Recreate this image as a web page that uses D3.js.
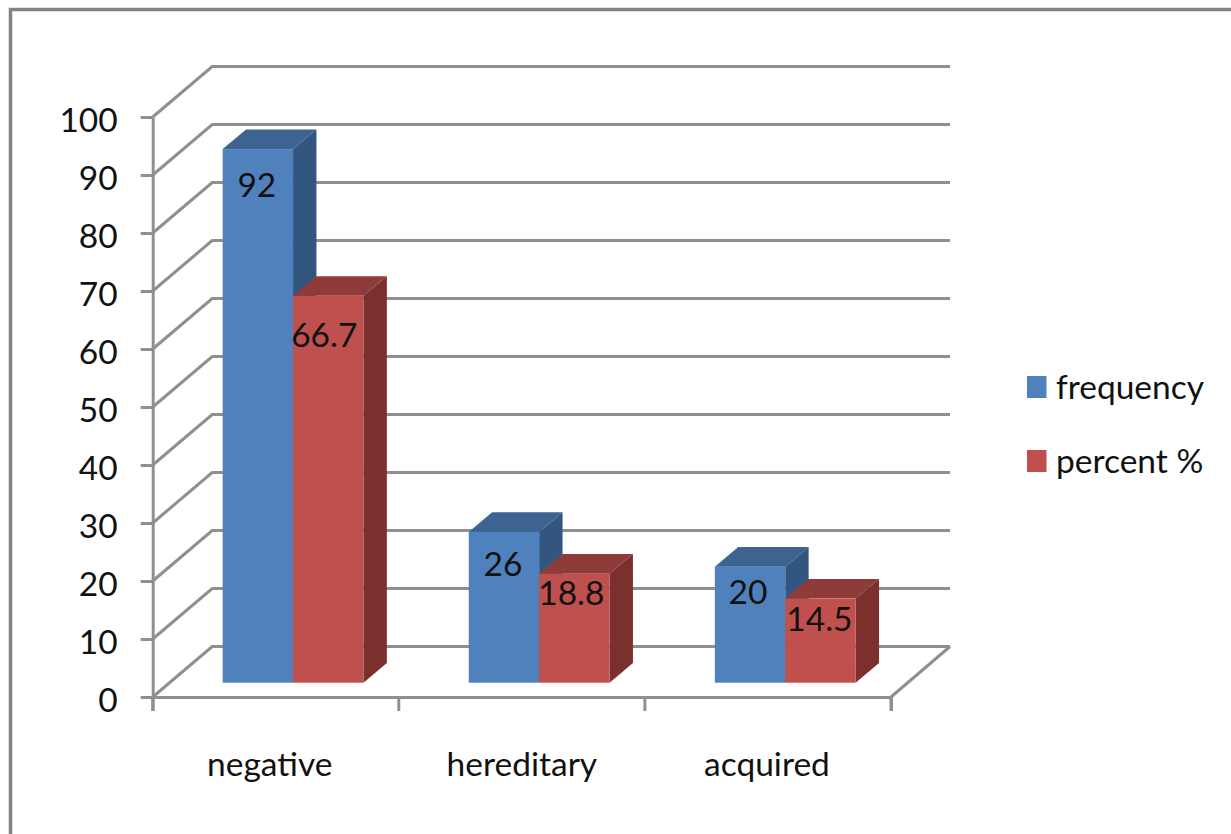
<!DOCTYPE html>
<html>
<head>
<meta charset="utf-8">
<script src="https://cdn.jsdelivr.net/npm/d3@7"></script>
<style>
  html, body { margin: 0; background: #fff; }
  svg { display: block; }
  text { font-family: Lato, sans-serif; fill: #111; }
</style>
</head>
<body>
<div id="chart"></div>
<script>
var categories = ["negative", "hereditary", "acquired"];
var seriesNames = ["frequency", "percent %"];
var frequency = [92, 26, 20];
var percent = [66.7, 18.8, 14.5];
var yTicks = [0, 10, 20, 30, 40, 50, 60, 70, 80, 90, 100];

var width = 1231,
  height = 834,
  grid = "#8f8f8f",
  fontSize = 33.5,
  faces = [
    { front: "#4f81bd", top: "#3d6491", side: "#335680" },
    { front: "#c0504d", top: "#8f3b39", side: "#7b302e" }
  ];

// depth of the walls and of the bars
var wallDx = 59.5, wallDy = -50.5,
  planeDx = 17.3, planeDy = -14.3,
  depthDx = 23.4, depthDy = -19.6;

var x = d3.scaleBand().domain(categories).range([152.7, 891]);
var y = d3.scaleLinear().domain([0, 100]).range([697, 117]);

// two bars side by side, centred in each category
var barWidth = 70.4;
var xSeries = d3.scaleBand().domain(seriesNames)
  .range([x.bandwidth() / 2 - barWidth, x.bandwidth() / 2 + barWidth]);

var svg = d3.select("#chart").append("svg")
  .attr("width", width)
  .attr("height", height);

// outer frame
svg.append("path")
  .attr("d", "M10.5," + height + "V9.5H" + width)
  .attr("fill", "none")
  .attr("stroke", "#828282")
  .attr("stroke-width", 3.5);

// back wall lines and the diagonals running into them
var wall = svg.append("g")
  .attr("fill", "none")
  .attr("stroke", grid)
  .attr("stroke-width", 3);

wall.selectAll("path.gridline").data(yTicks).enter()
  .append("path")
  .attr("class", "gridline")
  .attr("d", function(d) {
    var x0 = x.range()[0], yv = y(d);
    return "M" + x0 + "," + yv + "L" + (x0 + wallDx) + "," + (yv + wallDy) + "H950";
  });

// right edge of the floor
wall.append("path")
  .attr("d", "M" + x.range()[1] + "," + y(0) + "L950," + (y(0) + wallDy));

// bars
var rows = [];
categories.forEach(function(c, i) {
  rows.push({ cat: c, name: seriesNames[0], value: frequency[i], face: faces[0] });
  rows.push({ cat: c, name: seriesNames[1], value: percent[i], face: faces[1] });
});

var poly = d3.line();

var bars = svg.selectAll("g.bar").data(rows).enter()
  .append("g")
  .attr("class", "bar");

var box = function(d) {
  var l = x(d.cat) + xSeries(d.name) + planeDx,
    r = l + xSeries.bandwidth(),
    t = y(d.value) + planeDy,
    b = y(0) + planeDy;
  return { l: l, r: r, t: t, b: b };
};

bars.append("path")
  .attr("fill", function(d) { return d.face.top; })
  .attr("d", function(d) {
    var k = box(d);
    return poly([[k.l, k.t], [k.r, k.t], [k.r + depthDx, k.t + depthDy], [k.l + depthDx, k.t + depthDy]]) + "Z";
  });

bars.append("path")
  .attr("fill", function(d) { return d.face.side; })
  .attr("d", function(d) {
    var k = box(d);
    return poly([[k.r, k.t], [k.r + depthDx, k.t + depthDy], [k.r + depthDx, k.b + depthDy], [k.r, k.b]]) + "Z";
  });

bars.append("rect")
  .attr("fill", function(d) { return d.face.front; })
  .attr("x", function(d) { return box(d).l; })
  .attr("y", function(d) { return box(d).t; })
  .attr("width", xSeries.bandwidth())
  .attr("height", function(d) { return box(d).b - box(d).t; });

// value labels sit a little below the top of the front face
var labelNudge = [[-1, 48], [-4, 51], [-1, 44], [-3, 31], [-2, 37], [-1, 32]];

bars.append("text")
  .attr("text-anchor", "middle")
  .attr("font-size", fontSize)
  .attr("x", function(d, i) { var k = box(d); return (k.l + k.r) / 2 + labelNudge[i][0]; })
  .attr("y", function(d, i) { return box(d).t + labelNudge[i][1]; })
  .text(function(d) { return d.value; });

// axes
var yAxis = svg.append("g")
  .attr("transform", "translate(" + x.range()[0] + ",0)")
  .call(d3.axisLeft(y).tickValues(yTicks).tickSize(12).tickSizeOuter(0).tickPadding(23));

var xAxis = svg.append("g")
  .attr("transform", "translate(0," + y(0) + ")")
  .call(d3.axisBottom(x).tickSizeOuter(14).tickValues([]));

xAxis.selectAll("line.edge").data(x.domain().concat("end")).enter()
  .append("line")
  .attr("class", "edge")
  .attr("x1", function(d) { return d === "end" ? x.range()[1] : x(d); })
  .attr("x2", function(d) { return d === "end" ? x.range()[1] : x(d); })
  .attr("y2", 14);

svg.selectAll(".domain, .tick line, line.edge")
  .attr("stroke", grid)
  .attr("stroke-width", 3);

yAxis.selectAll("text")
  .attr("font-size", fontSize)
  .attr("fill", "#111")
  .attr("dy", "0.42em")
  .style("font-family", "Lato, sans-serif");

var catNudge = [-6, 0, -1];

svg.selectAll("text.category").data(categories).enter()
  .append("text")
  .attr("class", "category")
  .attr("text-anchor", "middle")
  .attr("font-size", fontSize)
  .attr("x", function(d, i) { return x(d) + x.bandwidth() / 2 + catNudge[i]; })
  .attr("y", 776)
  .text(function(d) { return d; });

// legend
var legendY = d3.scalePoint().domain(seriesNames).range([387, 461]);

var legend = svg.selectAll("g.legend").data(seriesNames).enter()
  .append("g")
  .attr("class", "legend")
  .attr("transform", function(d) { return "translate(1027," + legendY(d) + ")"; });

legend.append("rect")
  .attr("y", -11)
  .attr("width", 19.5)
  .attr("height", 22)
  .attr("fill", function(d, i) { return faces[i].front; });

legend.append("text")
  .attr("x", 29)
  .attr("y", 12)
  .attr("font-size", fontSize)
  .text(function(d) { return d; });
</script>
</body>
</html>
